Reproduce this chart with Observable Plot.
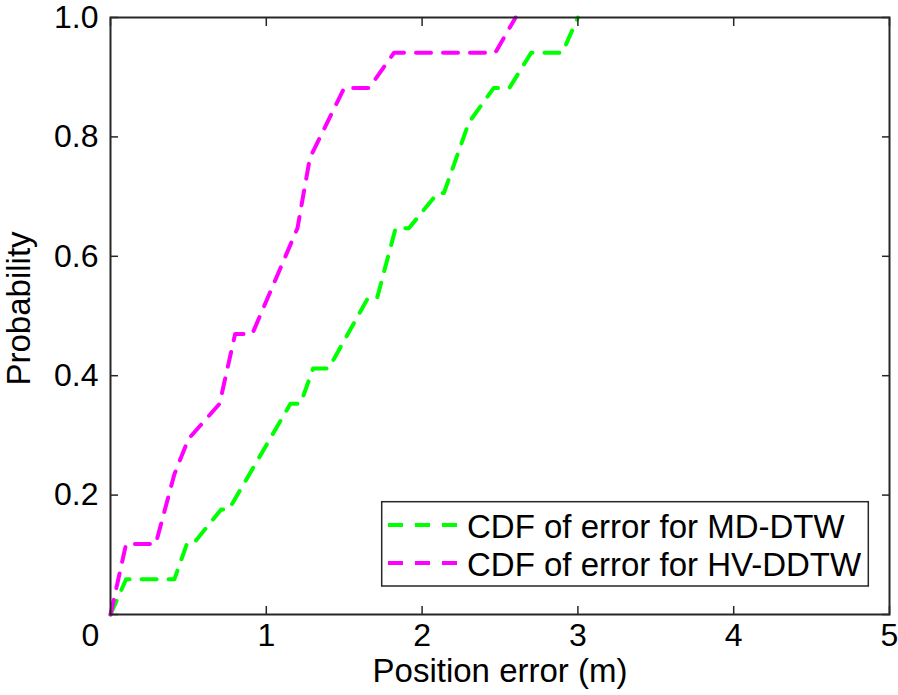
<!DOCTYPE html>
<html><head><meta charset="utf-8">
<script src="https://cdn.jsdelivr.net/npm/d3@7"></script>
<script src="https://cdn.jsdelivr.net/npm/@observablehq/plot@0.6"></script>
<style>
body{margin:0;background:#fff;}
#chart{position:relative;width:898px;height:695px;}
</style>
</head><body><div id="chart"></div>
<script>
// MD-DTW CDF points
const mdX = [0, 0.1, 0.41, 0.49, 0.53, 0.71, 0.76, 1.155, 1.22, 1.3, 1.4, 1.65, 1.71, 1.83, 1.915, 2.1, 2.14, 2.3, 2.46, 2.56, 2.7, 2.9, 3.0];
const mdY = [0, 0.059, 0.059, 0.118, 0.118, 0.176, 0.176, 0.353, 0.353, 0.412, 0.412, 0.529, 0.529, 0.647, 0.647, 0.706, 0.706, 0.824, 0.882, 0.882, 0.941, 0.941, 1.0];
// HV-DDTW CDF points
const hvX = [0, 0.1, 0.29, 0.41, 0.5, 0.7, 0.8, 0.91, 1.2, 1.28, 1.5, 1.66, 1.82, 2.47, 2.6];
const hvY = [0, 0.118, 0.118, 0.235, 0.294, 0.353, 0.47, 0.47, 0.647, 0.765, 0.882, 0.882, 0.941, 0.941, 1.0];

const seriesNames = ["CDF of error for MD-DTW", "CDF of error for HV-DDTW"];
const seriesColors = ["#00ff00", "#ff00ff"];
const xTicks = [0, 1, 2, 3, 4, 5];
const yTicks = [0, 0.2, 0.4, 0.6, 0.8, 1.0];
const yTickLabels = ["", "0.2", "0.4", "0.6", "0.8", "1.0"];
const xLabel = "Position error (m)";
const yLabel = "Probability";

const md = mdX.map((x, i) => ({x, y: mdY[i]}));
const hv = hvX.map((x, i) => ({x, y: hvY[i]}));

const axisColor = "#262626";
const font = "'Liberation Sans', Arial, sans-serif";
const fs = 32;
const fsLabel = 33;
const lw = 4;
const dash = "15,12";

const plot = Plot.plot({
  width: 898, height: 695,
  marginLeft: 110, marginRight: 9, marginTop: 17, marginBottom: 81,
  style: {fontFamily: font, fontSize: fs + "px", color: axisColor, background: "white", overflow: "visible"},
  x: {domain: [0, 5]},
  y: {domain: [0, 1]},
  marks: [
    Plot.line(md, {x: "x", y: "y", stroke: seriesColors[0], strokeWidth: lw, strokeDasharray: dash, strokeLinejoin: "round"}),
    Plot.line(hv, {x: "x", y: "y", stroke: seriesColors[1], strokeWidth: lw, strokeDasharray: dash, strokeLinejoin: "round"}),
    Plot.frame({stroke: axisColor, strokeWidth: 2}),
    Plot.axisX({ticks: xTicks.slice(1), tickSize: -8, tickPadding: 17, strokeWidth: 1.5, fontSize: fs, fill: "black", tickFormat: d => String(d), label: null}),
    Plot.text([xTicks[0]], {x: d => d, frameAnchor: "bottom", lineAnchor: "top", dy: 9, dx: -20, text: d => String(d), fontSize: fs, fill: "black"}),
    Plot.axisX({anchor: "top", ticks: xTicks, tickSize: -8, strokeWidth: 1.5, tickFormat: () => "", label: null}),
    Plot.axisY({ticks: yTicks, tickSize: -8, tickPadding: 20, strokeWidth: 1.5, fontSize: fs, fill: "black", tickFormat: d => yTickLabels[yTicks.indexOf(d)], label: null}),
    Plot.axisY({anchor: "right", ticks: yTicks, tickSize: -8, strokeWidth: 1.5, tickFormat: () => "", label: null}),
    Plot.text([xLabel], {frameAnchor: "bottom", textAnchor: "middle", lineAnchor: "top", dy: 44, text: d => d, fontSize: fsLabel, fill: "black"}),
    Plot.text([yLabel], {frameAnchor: "left", textAnchor: "middle", lineAnchor: "top", rotate: -90, dx: -104, dy: -7.5, text: d => d, fontSize: fsLabel, fill: "black"})
  ]
});
document.getElementById("chart").appendChild(plot);

// Legend box (inside the axes, lower right)
const svg = d3.select(plot);
const lg = svg.append("g").attr("font-family", font).attr("font-size", fsLabel).attr("text-anchor", "start");
lg.append("rect").attr("x", 381.7).attr("y", 501.7).attr("width", 486.6).attr("height", 84.3)
  .attr("fill", "white").attr("stroke", axisColor).attr("stroke-width", 1.5);
const rowY = [525, 563];
seriesNames.forEach((name, i) => {
  lg.append("line").attr("x1", 388).attr("x2", 460).attr("y1", rowY[i]).attr("y2", rowY[i])
    .attr("stroke", seriesColors[i]).attr("stroke-width", lw).attr("stroke-dasharray", dash);
  lg.append("text").attr("x", 467).attr("y", rowY[i] + 12.5).attr("text-anchor", "start").attr("fill", "black").text(name);
});
</script>
</body></html>
